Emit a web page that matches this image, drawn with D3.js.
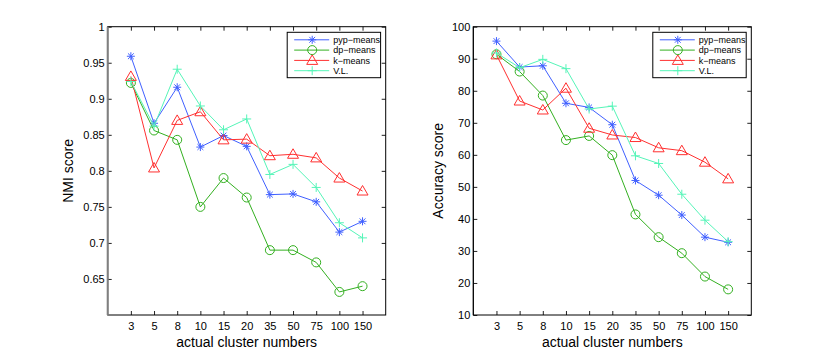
<!DOCTYPE html>
<html>
<head>
<meta charset="utf-8">
<script src="https://d3js.org/d3.v7.min.js"></script>
<style>
  body { margin: 0; background: #fff; }
  svg text { font-family: "Liberation Sans", Arial, sans-serif; fill: #000; }
</style>
</head>
<body>
<svg id="chart" width="830" height="355"></svg>
<script>
// x categories (actual cluster numbers)
const clusters = ["3", "5", "8", "10", "15", "20", "35", "50", "75", "100", "150"];
const methods = ["pyp−means", "dp−means", "k−means", "V.L."];

// NMI scores
const nmiPyp = [0.959, 0.866, 0.916, 0.833, 0.849, 0.834, 0.767, 0.768, 0.757, 0.715, 0.730];
const nmiDp  = [0.922, 0.856, 0.843, 0.750, 0.790, 0.763, 0.690, 0.690, 0.673, 0.632, 0.640];
const nmiKm  = [0.931, 0.804, 0.870, 0.882, 0.843, 0.844, 0.821, 0.823, 0.818, 0.790, 0.772];
const nmiVL  = [0.924, 0.862, 0.941, 0.890, 0.857, 0.872, 0.795, 0.809, 0.777, 0.728, 0.707];

// Accuracy scores
const accPyp = [95.5, 87.4, 87.8, 76.1, 74.8, 69.4, 52.0, 47.4, 41.2, 34.3, 32.7];
const accDp  = [91.4, 86.0, 78.5, 64.6, 65.9, 59.9, 41.4, 34.3, 29.3, 22.0, 18.0];
const accKm  = [91.2, 76.8, 74.0, 80.8, 68.3, 66.2, 65.4, 62.2, 61.3, 57.7, 52.5];
const accVL  = [91.8, 87.2, 89.8, 86.9, 74.3, 75.2, 59.7, 57.3, 47.7, 39.6, 32.9];

const nmiTicks = [0.65, 0.7, 0.75, 0.8, 0.85, 0.9, 0.95, 1];
const accTicks = [10, 20, 30, 40, 50, 60, 70, 80, 90, 100];

const colors = ["#4060ff", "#33b020", "#ff3030", "#55f5b8"];
const markers = ["star", "circle", "triangle", "plus"];

const svg = d3.select("#chart");

function marker(g, type, color) {
  if (type == "circle") {
    g.append("circle").attr("r", 4.5).attr("fill", "none").attr("stroke", color);
  } else if (type == "triangle") {
    g.append("path").attr("d", "M0,-5.5L5.5,4L-5.5,4Z").attr("fill", "none").attr("stroke", color);
  } else if (type == "plus") {
    g.append("path").attr("d", "M-4.5,0H4.5M0,-4.5V4.5").attr("stroke", color);
  } else {
    g.append("path").attr("d", "M-4,0H4M0,-4V4M-2.9,-2.9L2.9,2.9M-2.9,2.9L2.9,-2.9").attr("stroke", color);
  }
}

function panel(x0, yDomain, ticks, fmt, series, ylabel, leftColor, labelOff) {
  const x1 = x0 + 278, y0 = 26.7, y1 = 315;
  const x = d3.scalePoint().domain(clusters).range([x0, x1]).padding(1);
  const y = d3.scaleLinear().domain(yDomain).range([y1, y0]);
  const g = svg.append("g");

  // axes with inward ticks
  const xb = g.append("g").attr("transform", `translate(0,${y1})`)
    .call(d3.axisBottom(x).tickSize(-4).tickPadding(7));
  const xt = g.append("g").attr("transform", `translate(0,${y0})`)
    .call(d3.axisTop(x).tickSize(-4).tickFormat(""));
  const yl = g.append("g").attr("transform", `translate(${x0},0)`)
    .call(d3.axisLeft(y).tickValues(ticks).tickSize(-4).tickPadding(3).tickFormat(fmt));
  const yr = g.append("g").attr("transform", `translate(${x1},0)`)
    .call(d3.axisRight(y).tickValues(ticks).tickSize(-4).tickFormat(""));
  [xb, xt, yl, yr].forEach(a => {
    a.select(".domain").remove();
    a.selectAll("line").attr("stroke", "#222");
    a.selectAll("text").style("font-size", "11px").style("font-family", "Liberation Sans, Arial, sans-serif");
  });

  g.append("rect").attr("x", x0).attr("y", y0).attr("width", x1 - x0).attr("height", y1 - y0)
    .attr("fill", "none").attr("stroke", "#000");
  g.append("line").attr("x1", x0).attr("x2", x0).attr("y1", y0).attr("y2", y1)
    .attr("stroke", leftColor).attr("stroke-width", leftColor == "#000" ? 1 : 2);

  // lines and markers
  series.forEach((vals, k) => {
    const line = d3.line().x((d, i) => x(clusters[i])).y(d => y(d));
    g.append("path").datum(vals).attr("d", line)
      .attr("fill", "none").attr("stroke", colors[k]).attr("stroke-width", 1);
    vals.forEach((v, i) => {
      const m = g.append("g").attr("transform", `translate(${x(clusters[i])},${y(v)})`);
      marker(m, markers[k], colors[k]);
    });
  });

  // legend
  const lx = x1 - 98.5, ly = 32.3;
  g.append("rect").attr("x", lx).attr("y", ly).attr("width", 93.4).attr("height", 45.4)
    .attr("fill", "#fff").attr("stroke", "#000");
  methods.forEach((name, k) => {
    const ry = ly + 7.5 + k * 10.3;
    g.append("line").attr("x1", lx + 7).attr("x2", lx + 42).attr("y1", ry).attr("y2", ry)
      .attr("stroke", colors[k]);
    marker(g.append("g").attr("transform", `translate(${lx + 25},${ry})`), markers[k], colors[k]);
    g.append("text").attr("x", lx + 46).attr("y", ry).attr("dy", "0.35em")
      .style("font-size", "9px").text(name);
  });

  // axis titles
  g.append("text").attr("x", (x0 + x1) / 2).attr("y", 346.5)
    .attr("text-anchor", "middle").style("font-size", "14px").text("actual cluster numbers");
  g.append("text").attr("transform", `translate(${x0 - labelOff},${(y0 + y1) / 2}) rotate(-90)`)
    .attr("text-anchor", "middle").style("font-size", "14px").text(ylabel);
}

panel(107.7, [0.6, 1], nmiTicks, d => d3.format("")(d), [nmiPyp, nmiDp, nmiKm, nmiVL], "NMI score", "#808080", 35);
panel(473.3, [10, 100], accTicks, d3.format("d"), [accPyp, accDp, accKm, accVL], "Accuracy score", "#000", 30.6);
</script>
</body>
</html>
